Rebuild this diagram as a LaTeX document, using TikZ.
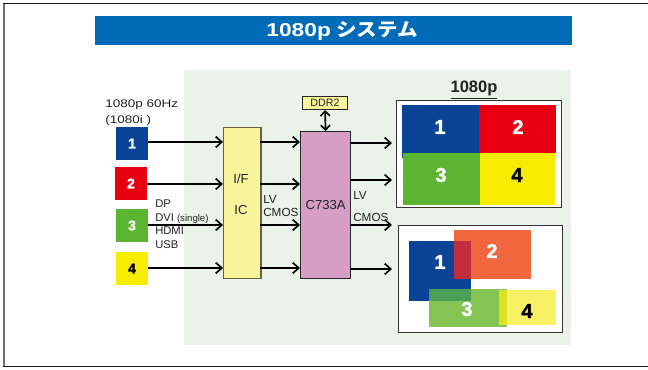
\documentclass[tikz,border=0pt]{standalone}
\usepackage{fontspec}
\setmainfont{Liberation Sans}
\newfontfamily\widesans[FakeStretch=1.22]{Liberation Sans}
\newfontfamily\heavydigit[FakeBold=1.6]{Liberation Sans Bold}
\newfontfamily\cjk[FakeStretch=1.1]{Noto Sans CJK JP}
\usetikzlibrary{arrows.meta}
\definecolor{panelgreen}{HTML}{E9F3EA}
\definecolor{titleblue}{HTML}{006CB7}
\definecolor{sqblue}{HTML}{0B4397}
\definecolor{sqred}{HTML}{E80012}
\definecolor{sqgreen}{HTML}{5CB531}
\definecolor{sqyellow}{HTML}{F7EC00}
\definecolor{boxyellow}{HTML}{FAF59B}
\definecolor{boxpink}{HTML}{D69EC4}
\definecolor{textgray}{HTML}{222222}
\definecolor{fadeorange}{HTML}{F0673F}
\definecolor{fadegreen}{HTML}{86C456}
\definecolor{fadeyellow}{HTML}{F8F065}
\definecolor{mixred}{HTML}{C32E3F}
\definecolor{mixgreen}{HTML}{4A9F59}
\definecolor{mixyellow}{HTML}{DFE020}
\tikzset{
  x=0.75pt,y=-0.75pt,
  sq/.style={minimum width=24pt,minimum height=24.5pt,inner sep=0pt,font=\heavydigit\fontsize{10.5}{10.5}\selectfont},
  lab/.style={font=\fontsize{8.4}{9.6}\selectfont,text=textgray,inner sep=0pt,anchor=west},
  chip/.style={draw=black!85,line width=0.9pt,inner sep=0pt,text=textgray,font=\fontsize{9.8}{11}\selectfont},
  sig/.style={line width=1.25pt,-{Straight Barb[length=4.5pt,width=8pt,line width=1.25pt]}},
  screen/.style={draw=black!80,line width=0.9pt,fill=white,inner sep=0pt,anchor=north west},
  digit/.style={inner sep=0pt,font=\heavydigit\fontsize{15}{15}\selectfont},
}
\begin{document}
\begin{tikzpicture}
\useasboundingbox (0,0) rectangle (648,369);
\fill[white] (0,0) rectangle (648,369);
\draw[black!55,line width=1.5pt] (4,3) -- (4,367);
\draw[black!90,line width=0.9pt] (3.3,3.5) -- (648,3.5);
\draw[black!90,line width=0.9pt] (3.3,366.5) -- (648,366.5);
\node[fill=titleblue,minimum width=357.75pt,minimum height=21.75pt,inner sep=0pt,anchor=north west,text=white] (title) at (95,16) {};
\node[text=white,inner sep=0pt,font=\bfseries\fontsize{14}{14}\selectfont] (titletext) at (342,31) {{\widesans 1080p} {\cjk システム}};
\node[fill=panelgreen,minimum width=290.25pt,minimum height=206.25pt,inner sep=0pt,anchor=north west] (panel) at (184,70) {};
% sources
\node[sq,fill=sqblue,text=white] (s1) at (132,143.5) {1};
\node[sq,fill=sqred,text=white] (s2) at (131,183.5) {2};
\node[sq,fill=sqgreen,text=white] (s3) at (132,225.5) {3};
\node[sq,fill=sqyellow,text=black] (s4) at (132,268.5) {4};
\node[lab,align=left,font=\widesans\fontsize{8.3}{11.6}\selectfont] (srclabel) at (105,113) {1080p 60Hz\\(1080i )};
\node[lab,align=left,anchor=north west,font=\fontsize{8.4}{10.2}\selectfont] (iflist) at (155,199.5) {DP\\DVI {\fontsize{7.2}{8}\selectfont(single)}\\HDMI\\USB};
% chips
\node[chip,draw=black!60!boxyellow,fill=boxyellow,minimum width=28pt,minimum height=113.25pt,anchor=north west] (ifc) at (223,127) {};
\node[text=textgray,font=\fontsize{9.8}{10}\selectfont,inner sep=0pt] (iftxt) at (241,179) {I/F};
\node[text=textgray,font=\fontsize{9.8}{10}\selectfont,inner sep=0pt] (ictxt) at (241,210) {IC};
\node[chip,fill=boxpink,minimum width=37.5pt,minimum height=110.25pt,anchor=north west] (c733) at (300,131) {C733A};
\node[draw=black!85,fill=boxyellow,line width=0.6pt,minimum width=34pt,minimum height=10pt,inner sep=0pt,text=textgray,font=\fontsize{8}{8}\selectfont] (ddr) at (325,103) {DDR2};
\draw[line width=1.25pt,{Straight Barb[length=3.5pt,width=7pt,line width=1.25pt]}-{Straight Barb[length=3.5pt,width=7pt,line width=1.25pt]}] (ddr.south) -- (c733.north);
% connector ends on the chips
\foreach \n/\y in {a/142,b/184,c/225,d/268}{
  \coordinate (il\n) at (223,\y);
  \coordinate (ir\n) at (260,\y);
  \coordinate (cl\n) at (300,\y);
}
\foreach \n/\y in {a/143,b/180,c/225,d/269}{
  \coordinate (cr\n) at (350,\y);
  \coordinate (e\n) at (392,\y);
}
\draw[sig] (s1.east |- ila) -- (ila);
\draw[sig] (s2.east |- ilb) -- (ilb);
\draw[sig] (s3.east |- ilc) -- (ilc);
\draw[sig] (s4.east |- ild) -- (ild);
\foreach \n in {a,b,c,d}{
  \draw[sig] (ir\n) -- (cl\n);
  \draw[sig] (cr\n) -- (e\n);
}
\node[lab,align=left,font=\fontsize{8.8}{9.2}\selectfont] (lv1) at (263,206) {LV\\CMOS};
\node[lab,font=\fontsize{8.8}{9.2}\selectfont] (lv2a) at (353,195) {LV};
\node[lab,font=\fontsize{8.8}{9.2}\selectfont] (lv2b) at (353,217.5) {CMOS};
% top screen
\node[inner sep=0pt,font=\bfseries\fontsize{12.4}{13}\selectfont,text=textgray] (hd) at (474,90) {\underline{1080p}};
\node[screen,minimum width=123.5pt,minimum height=80.2pt] (scr1) at (396,100) {};
\fill[sqblue] (402,105) rectangle (479,153);
\fill[sqblue] (402,153) rectangle (403,158);
\fill[sqred] (479,105) rectangle (556,153);
\fill[sqgreen] (403,153) rectangle (480,205);
\fill[sqyellow] (480,153) rectangle (555,205);
\node[digit,text=white] (d1) at (440,127) {1};
\node[digit,text=white] (d2) at (518,127) {2};
\node[digit,text=white] (d3) at (441,175) {3};
\node[digit,text=black] (d4) at (517,175) {4};
% bottom screen
\node[screen,minimum width=123pt,minimum height=80pt] (scr2) at (397.5,225) {};
\fill[sqblue] (409,241) rectangle (471,301);
\fill[fadeorange] (454,230) rectangle (531,279);
\fill[mixred] (454,241) rectangle (471,279);
\fill[fadegreen] (429,289) rectangle (507,327);
\fill[mixgreen] (429,289) rectangle (471,301);
\fill[fadeyellow] (499,290) rectangle (556,325);
\fill[mixyellow] (499,290) rectangle (507,325);
\node[digit,text=white] (e1) at (440,262) {1};
\node[digit,text=white] (e2) at (492,251) {2};
\node[digit,text=white] (e3) at (467,309) {3};
\node[digit,text=black] (e4) at (527,311) {4};
\end{tikzpicture}
\end{document}
